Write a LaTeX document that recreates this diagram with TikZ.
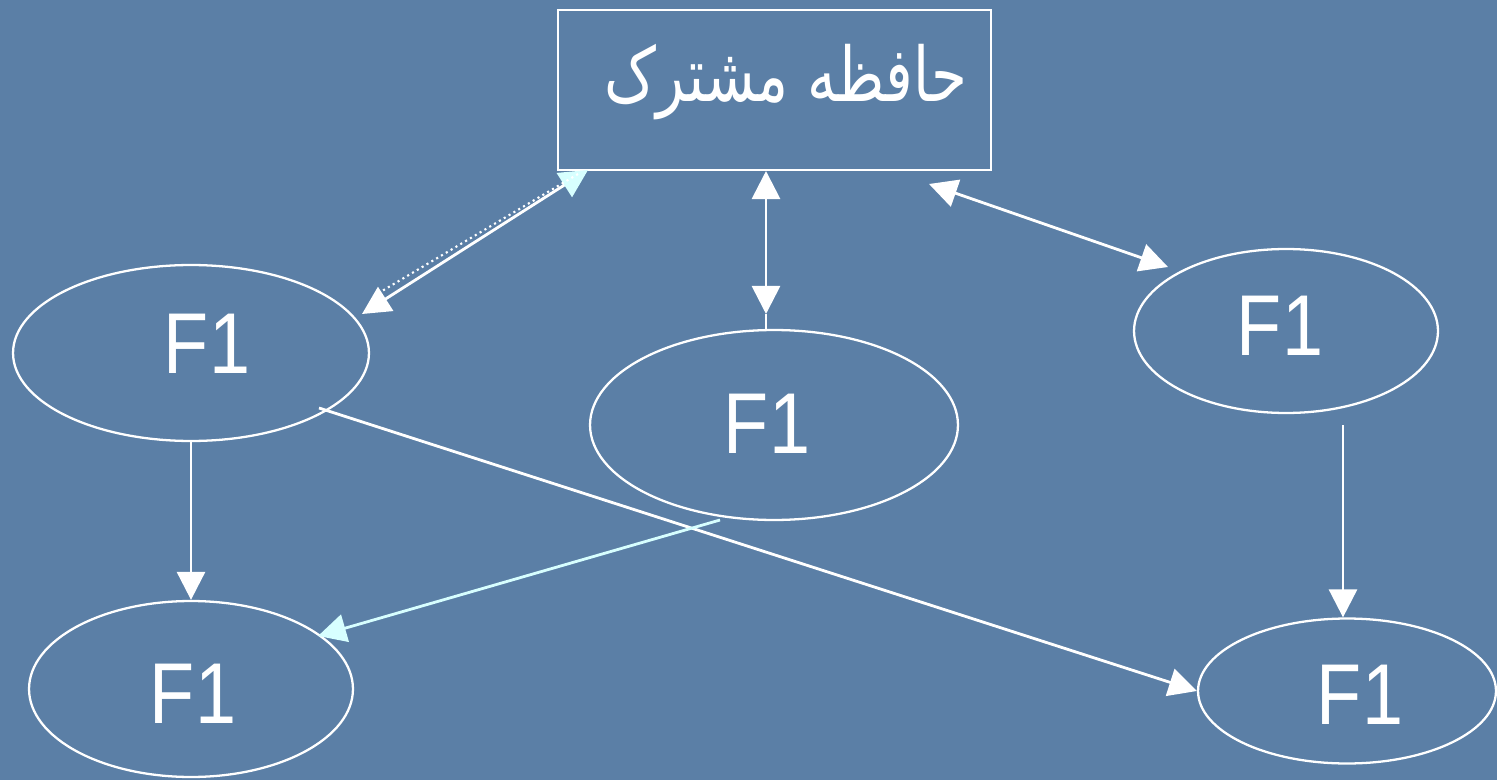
\documentclass[tikz,border=0pt]{standalone}
\usepackage{fontspec}
\setmainfont{Liberation Sans}
\newfontfamily\arabicfont[Script=Arabic]{DejaVu Sans}
\TeXXeTstate=1
\usetikzlibrary{shapes.geometric,arrows.meta}
\definecolor{bg}{RGB}{91,127,166}
\definecolor{tipc}{RGB}{215,255,255}
\tikzset{
  oval/.style={ellipse, draw=white, line width=1.3pt, inner sep=0pt},
  lbl/.style={text=white, inner sep=0pt, font=\fontsize{42}{48}\selectfont},
  conn/.style={draw=white, line width=1.6pt},
  tip/.style={-{Triangle[length=16pt,width=16pt]}},
  bitip/.style={{Triangle[length=16pt,width=16pt]}-{Triangle[length=16pt,width=16pt]}},
}
\newcommand{\tallF}{\scalebox{1}[1.17]{F1}}
\begin{document}
\begin{tikzpicture}[x=0.02cm,y=-0.02cm]
\fill[bg] (0,0) rectangle (1497,780);
\useasboundingbox (0,0) rectangle (1497,780);

\node[draw=white, line width=1.3pt, minimum width=8.66cm, minimum height=3.2cm, inner sep=0pt] (mem) at (774.5,90) {};
\node[text=white, inner sep=0pt, font=\arabicfont\fontsize{33}{40}\selectfont] (memt) at (786,82) {\scalebox{1}[1.3]{\beginR حافظه مشترک\endR}};

\node[oval, minimum width=7.12cm, minimum height=3.52cm] (tl) at (191,353) {};
\node[oval, minimum width=7.36cm, minimum height=3.8cm] (mid) at (774,425) {};
\node[oval, minimum width=6.08cm, minimum height=3.28cm] (tr) at (1286,331) {};
\node[oval, minimum width=6.48cm, minimum height=3.52cm] (bl) at (191,689) {};
\node[oval, minimum width=5.96cm, minimum height=2.9cm] (br) at (1347,691) {};

\node[lbl] (ltl) at (207,344) {\tallF};
\node[lbl] (lmid) at (767,424) {\tallF};
\node[lbl] (ltr) at (1280,326) {\tallF};
\node[lbl] (lbl) at (193,694) {\tallF};
\node[lbl] (lbr) at (1360,695) {\tallF};

% memory <-> top-left
\coordinate (m1) at (588,170);
\coordinate (t1) at (362,314);
\draw[conn, {Triangle[length=16pt,width=16pt,color=tipc]}-{Triangle[length=16pt,width=16pt]}] (m1) -- (t1);
\coordinate (d1) at (578,174);
\coordinate (d2) at (372,297);
\draw[white, line width=1.2pt, dotted] (d1) -- (d2);

% memory <-> middle
\coordinate (m2) at (766,171);
\coordinate (t2) at (766,314);
\draw[conn, bitip] (m2) -- (t2);
\draw[conn] (t2) -- (t2 |- mid.north);

% memory <-> top-right
\coordinate (m3) at (929,184);
\coordinate (t3) at (1168,267);
\draw[conn, bitip] (m3) -- (t3);

% top-left -> bottom-left
\draw[conn, tip] (tl.south) -- (bl.north);

% top-left -> bottom-right
\coordinate (s5) at (319,408);
\draw[conn, tip] (s5) -- (br.west);

% middle -> bottom-left
\coordinate (s6) at (720,520);
\coordinate (e6) at (318,636);
\draw[draw=tipc, line width=1.6pt, -{Triangle[length=16pt,width=16pt,color=tipc]}] (s6) -- (e6);

% top-right -> bottom-right
\coordinate (s7) at (1343,425);
\draw[conn, tip] (s7) -- (s7 |- br.north);
\end{tikzpicture}
\end{document}
